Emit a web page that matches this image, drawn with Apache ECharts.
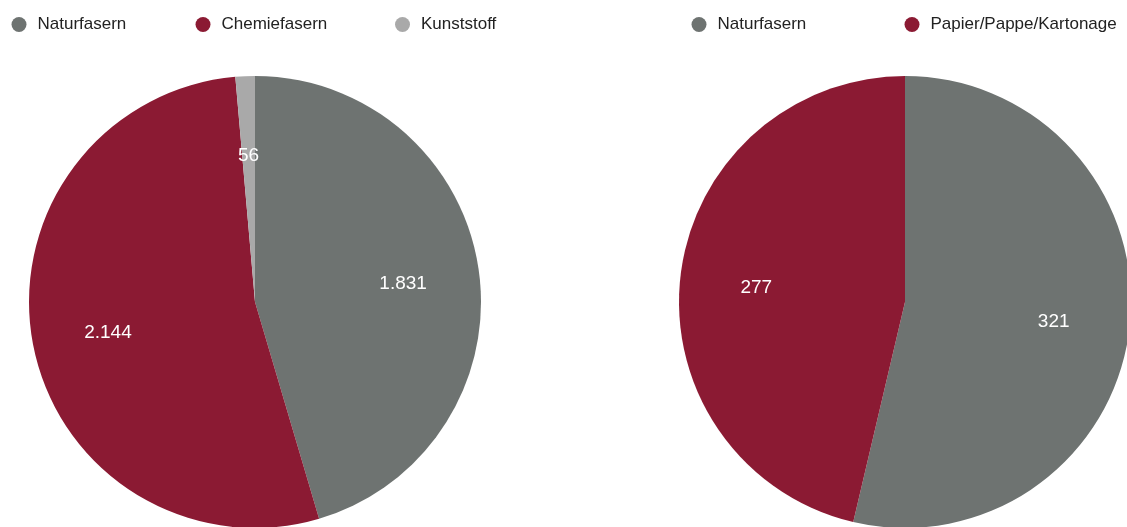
<!DOCTYPE html>
<html>
<head>
<meta charset="utf-8">
<script src="https://cdn.jsdelivr.net/npm/echarts@6/dist/echarts.min.js"></script>
<style>
html,body{margin:0;padding:0;background:#fff;}
#c{width:1127px;height:527px;}
</style>
</head>
<body>
<div id="c"></div>
<script>
// Left pie
const leftCategories = ['Naturfasern', 'Chemiefasern', 'Kunststoff'];
const leftValues = [1831, 2144, 56];
const leftLabels = ['1.831', '2.144', '56'];
// Right pie
const rightCategories = ['Naturfasern', 'Papier/Pappe/Kartonage'];
const rightValues = [321, 277];
const rightLabels = ['321', '277'];

const leftColors = ['#6e7371', '#8b1a33', '#a9a9a9'];
const rightColors = ['#6e7371', '#8b1a33'];

const FONT = "'Liberation Sans', Arial, Helvetica, sans-serif";

function mkData(cats, vals, colors, transparent) {
  return cats.map((n, i) => ({
    name: n,
    value: vals[i],
    itemStyle: { color: transparent ? 'rgba(0,0,0,0)' : colors[i] }
  }));
}

const R = 226;
const leftCenter = [255, 302];
const rightCenter = [905, 302];

function mainPie(center, cats, vals, colors) {
  return {
    type: 'pie',
    center: center,
    radius: [0, R],
    startAngle: 90,
    clockwise: true,
    data: mkData(cats, vals, colors, false),
    label: { show: false },
    labelLine: { show: false },
    emphasis: { disabled: true },
    animation: false
  };
}
function labelPie(center, cats, vals, labels) {
  return {
    type: 'pie',
    center: center,
    radius: [R / 3 - 8, R],
    startAngle: 90,
    clockwise: true,
    silent: true,
    data: mkData(cats, vals, null, true),
    label: {
      show: true,
      position: 'inside',
      color: '#ffffff',
      fontFamily: FONT,
      fontSize: 19,
      offset: [0, 3],
      formatter: p => labels[p.dataIndex]
    },
    labelLine: { show: false },
    emphasis: { disabled: true },
    animation: false
  };
}

function legendAt(name, color, left) {
  return {
    data: [{ name: name, itemStyle: { color: color } }],
    left: left,
    top: 16,
    icon: 'circle',
    itemWidth: 27,
    itemHeight: 15,
    padding: 0,
    textStyle: { fontFamily: FONT, fontSize: 17, color: '#222222' }
  };
}

const chart = echarts.init(document.getElementById('c'));
chart.setOption({
  backgroundColor: '#ffffff',
  animation: false,
  legend: [
    legendAt(leftCategories[0], leftColors[0], 11.5),
    legendAt(leftCategories[1], leftColors[1], 195.5),
    legendAt(leftCategories[2], leftColors[2], 395),
    legendAt(rightCategories[0], rightColors[0], 691.5),
    legendAt(rightCategories[1], rightColors[1], 904.5)
  ],
  series: [
    mainPie(leftCenter, leftCategories, leftValues, leftColors),
    mainPie(rightCenter, rightCategories, rightValues, rightColors),
    labelPie(leftCenter, leftCategories, leftValues, leftLabels),
    labelPie(rightCenter, rightCategories, rightValues, rightLabels)
  ]
});
</script>
</body>
</html>
